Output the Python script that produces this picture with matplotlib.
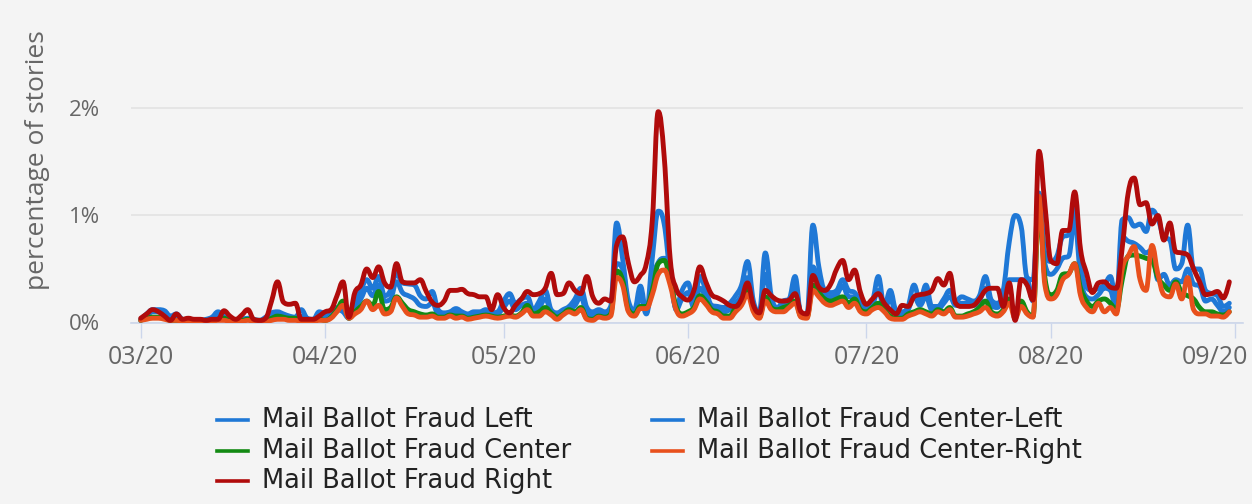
import matplotlib
matplotlib.use("Agg")
import matplotlib.pyplot as plt
import matplotlib.dates as mdates
import matplotlib.transforms as mtransforms
from matplotlib.path import Path
from matplotlib.patches import PathPatch
from matplotlib.lines import Line2D
import pandas as pd

# daily share of stories (%), 2020-03-01 .. 2020-08-31
dates = pd.date_range("2020-03-01", periods=184, freq="D")

left = [
    0.03, 0.08, 0.12, 0.12, 0.11, 0.06, 0.08, 0.03, 0.02, 0.02,
    0.02, 0.03, 0.05, 0.10, 0.06, 0.03, 0.02, 0.03, 0.04, 0.03,
    0.02, 0.05, 0.09, 0.10, 0.08, 0.06, 0.05, 0.12, 0.04, 0.03,
    0.10, 0.08, 0.07, 0.14, 0.12, 0.05, 0.19, 0.30, 0.40, 0.32,
    0.43, 0.25, 0.30, 0.46, 0.37, 0.36, 0.35, 0.25, 0.22, 0.29,
    0.12, 0.09, 0.10, 0.13, 0.10, 0.08, 0.10, 0.10, 0.12, 0.09,
    0.10, 0.20, 0.27, 0.18, 0.22, 0.24, 0.12, 0.20, 0.30, 0.12,
    0.09, 0.12, 0.15, 0.22, 0.32, 0.14, 0.10, 0.12, 0.10, 0.15,
    0.93, 0.60, 0.20, 0.12, 0.34, 0.10, 0.60, 1.04, 0.92, 0.45,
    0.14, 0.30, 0.37, 0.18, 0.43, 0.30, 0.16, 0.15, 0.14, 0.18,
    0.25, 0.35, 0.57, 0.20, 0.10, 0.65, 0.25, 0.14, 0.20, 0.22,
    0.43, 0.08, 0.08, 0.91, 0.52, 0.30, 0.28, 0.30, 0.40, 0.30,
    0.28, 0.20, 0.16, 0.20, 0.43, 0.15, 0.30, 0.11, 0.10, 0.15,
    0.35, 0.20, 0.35, 0.15, 0.15, 0.22, 0.30, 0.20, 0.24, 0.22,
    0.20, 0.25, 0.43, 0.21, 0.18, 0.30, 0.75, 1.00, 0.90, 0.42,
    0.40, 1.21, 0.65, 0.57, 0.62, 0.80, 0.82, 1.08, 0.55, 0.33,
    0.30, 0.32, 0.35, 0.43, 0.20, 0.96, 0.98, 0.90, 0.92, 0.85,
    1.05, 0.97, 0.80, 0.77, 0.50, 0.55, 0.91, 0.50, 0.50, 0.30,
    0.27, 0.25, 0.15, 0.18,
]

center_left = [
    0.02, 0.06, 0.10, 0.10, 0.08, 0.04, 0.05, 0.02, 0.02, 0.02,
    0.02, 0.02, 0.03, 0.06, 0.05, 0.02, 0.02, 0.02, 0.03, 0.02,
    0.02, 0.03, 0.06, 0.07, 0.06, 0.04, 0.04, 0.06, 0.03, 0.02,
    0.05, 0.05, 0.06, 0.12, 0.10, 0.04, 0.14, 0.22, 0.32, 0.25,
    0.35, 0.20, 0.22, 0.38, 0.28, 0.25, 0.22, 0.16, 0.15, 0.18,
    0.08, 0.07, 0.08, 0.10, 0.08, 0.06, 0.08, 0.08, 0.09, 0.07,
    0.08, 0.14, 0.20, 0.12, 0.16, 0.18, 0.09, 0.14, 0.22, 0.10,
    0.06, 0.10, 0.12, 0.16, 0.24, 0.08, 0.06, 0.08, 0.07, 0.10,
    0.55, 0.50, 0.16, 0.10, 0.24, 0.08, 0.40, 0.56, 0.60, 0.52,
    0.12, 0.22, 0.28, 0.14, 0.32, 0.24, 0.14, 0.12, 0.10, 0.12,
    0.18, 0.26, 0.42, 0.16, 0.08, 0.45, 0.20, 0.12, 0.16, 0.18,
    0.32, 0.08, 0.06, 0.52, 0.36, 0.26, 0.24, 0.26, 0.34, 0.24,
    0.24, 0.16, 0.12, 0.16, 0.30, 0.12, 0.22, 0.08, 0.08, 0.12,
    0.24, 0.16, 0.24, 0.12, 0.12, 0.18, 0.24, 0.16, 0.18, 0.18,
    0.16, 0.20, 0.32, 0.16, 0.14, 0.25, 0.40, 0.40, 0.40, 0.40,
    0.20, 1.15, 0.55, 0.45, 0.50, 0.60, 0.62, 0.95, 0.42, 0.24,
    0.22, 0.26, 0.32, 0.30, 0.12, 0.80, 0.76, 0.74, 0.70, 0.65,
    0.68, 0.40, 0.45, 0.35, 0.40, 0.38, 0.50, 0.36, 0.34, 0.20,
    0.22, 0.16, 0.10, 0.14,
]

center = [
    0.02, 0.04, 0.05, 0.05, 0.04, 0.02, 0.02, 0.02, 0.02, 0.02,
    0.02, 0.02, 0.02, 0.03, 0.04, 0.02, 0.02, 0.02, 0.03, 0.02,
    0.02, 0.02, 0.04, 0.06, 0.05, 0.04, 0.04, 0.03, 0.02, 0.02,
    0.03, 0.02, 0.05, 0.12, 0.20, 0.04, 0.10, 0.15, 0.20, 0.16,
    0.29, 0.12, 0.14, 0.24, 0.18, 0.12, 0.10, 0.08, 0.07, 0.08,
    0.05, 0.05, 0.07, 0.06, 0.06, 0.04, 0.05, 0.06, 0.07, 0.06,
    0.05, 0.06, 0.07, 0.06, 0.09, 0.16, 0.08, 0.10, 0.14, 0.09,
    0.05, 0.08, 0.12, 0.10, 0.14, 0.04, 0.03, 0.06, 0.05, 0.08,
    0.48, 0.40, 0.12, 0.08, 0.15, 0.15, 0.30, 0.55, 0.58, 0.40,
    0.15, 0.08, 0.10, 0.14, 0.25, 0.20, 0.12, 0.10, 0.06, 0.06,
    0.14, 0.20, 0.30, 0.12, 0.05, 0.24, 0.14, 0.12, 0.14, 0.16,
    0.20, 0.06, 0.05, 0.35, 0.28, 0.22, 0.20, 0.22, 0.24, 0.18,
    0.22, 0.12, 0.10, 0.14, 0.18, 0.12, 0.06, 0.04, 0.04, 0.08,
    0.10, 0.12, 0.10, 0.08, 0.12, 0.10, 0.14, 0.06, 0.06, 0.08,
    0.10, 0.14, 0.20, 0.10, 0.08, 0.12, 0.22, 0.06, 0.20, 0.10,
    0.06, 1.05, 0.42, 0.26, 0.30, 0.45, 0.46, 0.55, 0.32, 0.20,
    0.15, 0.20, 0.22, 0.18, 0.12, 0.40, 0.62, 0.63, 0.62, 0.60,
    0.58, 0.42, 0.35, 0.30, 0.38, 0.28, 0.25, 0.22, 0.14, 0.10,
    0.10, 0.08, 0.07, 0.10,
]

center_right = [
    0.02, 0.03, 0.04, 0.04, 0.03, 0.02, 0.02, 0.01, 0.01, 0.01,
    0.01, 0.01, 0.01, 0.02, 0.02, 0.01, 0.01, 0.01, 0.02, 0.01,
    0.01, 0.01, 0.02, 0.03, 0.03, 0.02, 0.02, 0.01, 0.01, 0.01,
    0.02, 0.02, 0.04, 0.10, 0.16, 0.04, 0.08, 0.12, 0.20, 0.12,
    0.16, 0.08, 0.10, 0.23, 0.15, 0.08, 0.07, 0.05, 0.05, 0.06,
    0.04, 0.04, 0.06, 0.04, 0.05, 0.03, 0.04, 0.05, 0.06, 0.05,
    0.04, 0.05, 0.06, 0.05, 0.08, 0.12, 0.06, 0.06, 0.10, 0.07,
    0.03, 0.07, 0.10, 0.08, 0.12, 0.03, 0.02, 0.05, 0.04, 0.06,
    0.42, 0.35, 0.10, 0.06, 0.13, 0.13, 0.26, 0.45, 0.49, 0.35,
    0.12, 0.06, 0.08, 0.12, 0.22, 0.17, 0.10, 0.08, 0.04, 0.04,
    0.10, 0.16, 0.26, 0.10, 0.04, 0.20, 0.12, 0.10, 0.10, 0.14,
    0.18, 0.05, 0.04, 0.30, 0.24, 0.18, 0.16, 0.18, 0.20, 0.14,
    0.18, 0.10, 0.08, 0.12, 0.14, 0.10, 0.04, 0.03, 0.03, 0.06,
    0.08, 0.10, 0.08, 0.06, 0.10, 0.08, 0.12, 0.05, 0.05, 0.06,
    0.08, 0.10, 0.14, 0.08, 0.06, 0.10, 0.18, 0.04, 0.15, 0.08,
    0.05, 1.18, 0.35, 0.22, 0.26, 0.40, 0.45, 0.55, 0.25, 0.14,
    0.10, 0.18, 0.10, 0.14, 0.08, 0.50, 0.62, 0.71, 0.40, 0.30,
    0.72, 0.45, 0.26, 0.24, 0.36, 0.22, 0.42, 0.12, 0.08, 0.08,
    0.06, 0.06, 0.05, 0.10,
]

right = [
    0.04, 0.08, 0.12, 0.10, 0.06, 0.02, 0.08, 0.03, 0.04, 0.03,
    0.03, 0.02, 0.03, 0.03, 0.11, 0.06, 0.03, 0.07, 0.12, 0.03,
    0.02, 0.04, 0.20, 0.38, 0.19, 0.17, 0.18, 0.03, 0.03, 0.03,
    0.06, 0.10, 0.12, 0.25, 0.38, 0.05, 0.28, 0.35, 0.50, 0.42,
    0.52, 0.37, 0.33, 0.55, 0.38, 0.37, 0.37, 0.40, 0.29, 0.19,
    0.16, 0.20, 0.30, 0.30, 0.31, 0.27, 0.26, 0.24, 0.24, 0.12,
    0.26, 0.14, 0.09, 0.16, 0.22, 0.29, 0.26, 0.27, 0.32, 0.46,
    0.26, 0.27, 0.37, 0.30, 0.27, 0.43, 0.24, 0.18, 0.22, 0.20,
    0.72, 0.80, 0.55, 0.38, 0.44, 0.55, 0.95, 1.97, 1.55, 0.60,
    0.32, 0.24, 0.21, 0.30, 0.52, 0.38, 0.26, 0.23, 0.20, 0.16,
    0.15, 0.22, 0.37, 0.16, 0.09, 0.30, 0.25, 0.21, 0.20, 0.21,
    0.27, 0.10, 0.08, 0.44, 0.33, 0.30, 0.36, 0.50, 0.58, 0.40,
    0.49, 0.28, 0.17, 0.22, 0.27, 0.18, 0.12, 0.08, 0.16, 0.15,
    0.24, 0.26, 0.27, 0.30, 0.41, 0.35, 0.46, 0.18, 0.15, 0.15,
    0.16, 0.22, 0.30, 0.32, 0.32, 0.15, 0.37, 0.02, 0.40, 0.35,
    0.21, 1.60, 1.10, 0.58, 0.55, 0.86, 0.86, 1.22, 0.68, 0.46,
    0.28, 0.37, 0.38, 0.33, 0.32, 0.70, 1.21, 1.35, 1.10, 1.12,
    0.92, 1.00, 0.77, 0.93, 0.66, 0.65, 0.63, 0.50, 0.38, 0.26,
    0.27, 0.29, 0.23, 0.38,
]

series_names = ["Mail Ballot Fraud Left", "Mail Ballot Fraud Center-Left",
                "Mail Ballot Fraud Center", "Mail Ballot Fraud Center-Right",
                "Mail Ballot Fraud Right"]
series_values = [left, center_left, center, center_right, right]
series_colors = ["#1f78d6", "#1f78d6", "#138a13", "#e8501c", "#b00b0b"]

BG = "#f4f4f4"


def spline_path(xs, ys, smoothing=1.5):
    # highcharts-style spline: bezier control points around each point
    n = len(xs)
    lefts, rights = [None] * n, [None] * n
    d = smoothing + 1
    for i in range(1, n - 1):
        px, py = xs[i], ys[i]
        lx, ly = xs[i - 1], ys[i - 1]
        nx, ny = xs[i + 1], ys[i + 1]
        lcx, lcy = (smoothing * px + lx) / d, (smoothing * py + ly) / d
        rcx, rcy = (smoothing * px + nx) / d, (smoothing * py + ny) / d
        if rcx != lcx:
            corr = (rcy - lcy) * (rcx - px) / (rcx - lcx) + py - rcy
            lcy += corr
            rcy += corr
        if lcy > ly and lcy > py:
            lcy = max(ly, py)
            rcy = 2 * py - lcy
        elif lcy < ly and lcy < py:
            lcy = min(ly, py)
            rcy = 2 * py - lcy
        if rcy > ny and rcy > py:
            rcy = max(ny, py)
            lcy = 2 * py - rcy
        elif rcy < ny and rcy < py:
            rcy = min(ny, py)
            lcy = 2 * py - rcy
        lefts[i] = (lcx, lcy)
        rights[i] = (rcx, rcy)
    verts = [(xs[0], ys[0])]
    codes = [Path.MOVETO]
    for i in range(1, n):
        c1 = rights[i - 1] if rights[i - 1] else (xs[i - 1], ys[i - 1])
        c2 = lefts[i] if lefts[i] else (xs[i], ys[i])
        verts += [c1, c2, (xs[i], ys[i])]
        codes += [Path.CURVE4] * 3
    return Path(verts, codes)


W, H = 1252, 504
fig = plt.figure(figsize=(W / 100, H / 100), dpi=100, facecolor=BG)
ax = fig.add_axes([131 / W, 1 - 322.5 / H, (1243 - 131) / W, (322.5 - 10) / H])
ax.set_facecolor(BG)

xnum = mdates.date2num(dates)
for vals, col in zip(series_values, series_colors):
    p = spline_path(list(xnum), vals)
    ax.add_patch(PathPatch(p, fill=False, edgecolor=col, lw=3.5,
                           capstyle="round", joinstyle="round", zorder=3))

ax.set_xlim(xnum[0] - 1.63, xnum[0] + 185.3)
ax.set_ylim(0, 2.92)

ax.set_yticks([0, 1, 2])
ax.set_yticklabels(["0%", "1%", "2%"])
ax.grid(axis="y", color="#e2e2e2", lw=1.2)
ax.set_axisbelow(True)

ax.xaxis.set_major_locator(mdates.MonthLocator())
ax.xaxis.set_major_formatter(mdates.DateFormatter("%m/%y"))

for s in ["top", "right", "left"]:
    ax.spines[s].set_visible(False)
ax.spines["bottom"].set_color("#ccd6eb")
ax.spines["bottom"].set_linewidth(1.2)

ax.tick_params(axis="y", length=0, pad=22, labelsize=16, labelcolor="#666666")
ax.tick_params(axis="x", length=11, width=1, color="#ccd6eb", pad=5,
               labelsize=18, labelcolor="#666666")
for lab in ax.get_xticklabels() + ax.get_yticklabels():
    lab.set_fontfamily(["Open Sans", "DejaVu Sans"])

# keep the last date label inside the chart, as the original does
last = ax.get_xticklabels()[-1]
last.set_horizontalalignment("right")
last.set_transform(last.get_transform() +
                   mtransforms.ScaledTranslation(13 / 100, 0, fig.dpi_scale_trans))

fig.text(38 / W, 1 - 160 / H, "percentage of stories", rotation=90,
         ha="center", va="center", fontsize=19, color="#666666",
         family=["Open Sans", "DejaVu Sans"])

# legend, two columns like the original
slots = [(217, 420), (652, 420), (217, 451), (652, 451), (217, 481)]
for (lx, ly), name, col in zip(slots, series_names, series_colors):
    fig.add_artist(Line2D([lx / W, (lx + 31) / W], [1 - ly / H, 1 - ly / H],
                          transform=fig.transFigure, color=col, lw=2.6))
    fig.text((lx + 45) / W, 1 - ly / H, name, ha="left", va="center",
             fontsize=18.5, color="#222222",
             family=["Liberation Sans Narrow", "DejaVu Sans"])

fig.savefig("out.png", dpi=100, facecolor=BG)
